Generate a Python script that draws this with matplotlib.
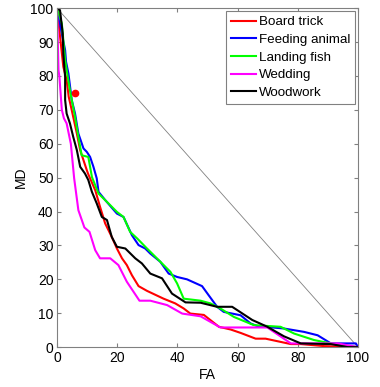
import numpy as np
import matplotlib.pyplot as plt

plt.rcParams['font.family'] = ['Liberation Sans', 'DejaVu Sans']

# curves: FA (x) vs MD (y)
board_x = [0, 2.1, 3.2, 3.9, 4.9, 6.6, 7.7, 9.9, 10.4, 12.7, 14.3, 16.0, 18.2, 19.9, 21.6, 23.2,
           24.9, 27.1, 29.9, 35.4, 39.3, 42.1, 44.3, 48.8, 53.8, 57.7, 61.0, 66.0, 69.3, 77.7, 81.0, 88.8, 100]
board_y = [100, 82.7, 78.8, 73.8, 69.9, 63.0, 58.1, 52.2, 51.0, 46.3, 41.4, 36.5, 32.5, 29.1, 26.2, 24.2,
           21.2, 18.0, 16.6, 14.3, 12.9, 11.4, 9.9, 9.5, 6.0, 5.2, 4.2, 2.5, 2.5, 0.9, 0.9, 0.3, 0]

feed_x = [0, 1.6, 2.7, 3.0, 3.8, 4.9, 6.0, 7.1, 8.8, 9.9, 11.0, 12.1, 13.2, 13.8, 16.0, 19.9, 22.1,
          24.9, 27.1, 29.3, 31.0, 34.3, 37.1, 39.9, 43.2, 48.2, 50.4, 53.2, 55.4, 61.0, 64.3, 66.6,
          75.4, 82.1, 86.6, 91.0, 99.3, 100]
feed_y = [100, 92.5, 87.6, 84.2, 80.7, 72.9, 68.9, 63.0, 58.6, 57.6, 56.1, 53.2, 49.8, 45.8, 43.4, 39.4, 38.4,
          33.0, 30.1, 29.1, 27.6, 25.2, 21.7, 20.7, 20.0, 18.0, 15.3, 11.9, 10.4, 9.4, 7.0, 6.2,
          5.5, 4.5, 3.5, 1.1, 1.1, 0]

fish_x = [0, 1.6, 2.7, 3.4, 4.1, 4.9, 6.0, 7.1, 8.2, 10.4, 11.6, 13.8, 17.1, 19.9, 22.1, 24.3, 26.6,
          29.9, 33.2, 37.7, 39.9, 42.1, 47.7, 51.0, 54.3, 58.8, 65.4, 74.3, 78.8, 85.4, 91.0, 100]
fish_y = [100, 95.5, 84.7, 80.7, 76.8, 72.9, 67.9, 62.0, 56.6, 56.1, 50.2, 45.3, 42.4, 39.9, 38.4, 34.0, 32.1,
          29.1, 26.2, 22.2, 18.8, 14.3, 13.7, 12.9, 11.4, 8.9, 6.5, 6.0, 4.0, 2.1, 1.1, 0]

wed_x = [0, 0.5, 0.8, 1.6, 2.3, 3.2, 4.6, 5.7, 7.1, 9.1, 10.8, 12.7, 14.3, 17.7, 20.4, 23.2, 27.4,
         31.0, 36.6, 41.6, 47.7, 54.3, 69.9, 77.7, 93.2, 100]
wed_y = [100, 81.7, 79.7, 70.0, 67.5, 66.0, 60.0, 49.8, 40.4, 35.3, 34.0, 28.6, 26.2, 26.2, 24.2, 19.3, 13.7,
         13.7, 12.4, 9.9, 9.1, 5.8, 5.8, 1.1, 1.1, 0]

wood_x = [0, 1.0, 1.9, 2.1, 2.7, 2.7, 3.2, 4.3, 5.4, 6.6, 7.7, 9.3, 10.4, 11.6, 13.2, 14.9, 16.6, 18.2,
          19.9, 22.7, 26.0, 28.2, 31.0, 34.9, 38.2, 42.7, 47.7, 53.2, 58.2, 64.9, 69.9, 75.4, 81.0, 91.0,
          96.6, 100]
wood_y = [100, 99.4, 92.5, 86.6, 79.7, 72.9, 68.9, 66.0, 62.0, 58.1, 53.2, 51.2, 49.3, 45.8, 42.4, 38.4, 37.5, 32.5,
          29.6, 29.1, 26.2, 24.7, 21.7, 20.3, 15.8, 13.2, 13.1, 11.9, 11.9, 8.0, 6.0, 3.2, 1.1, 0.9,
          0, 0]

dot_x, dot_y = 6, 75

fig = plt.figure(figsize=(3.8, 3.87), dpi=100)
ax = fig.add_axes([0.15, 0.103, 0.792, 0.876])

ax.plot([0, 100], [100, 0], color='#808080', lw=0.6)
ax.plot(board_x, board_y, color='#ff0000', lw=1.5, label='Board trick')
ax.plot(feed_x, feed_y, color='#0000ff', lw=1.5, label='Feeding animal')
ax.plot(fish_x, fish_y, color='#00ff00', lw=1.5, label='Landing fish')
ax.plot(wed_x, wed_y, color='#ff00ff', lw=1.5, label='Wedding')
ax.plot(wood_x, wood_y, color='#000000', lw=1.5, label='Woodwork')
ax.plot(dot_x, dot_y, 'o', color='#ff0000', ms=4.5)

ax.set_xlim(0, 100)
ax.set_ylim(0, 100)
ax.set_xticks(range(0, 101, 20))
ax.set_yticks(range(0, 101, 10))
ax.tick_params(direction='in', top=True, right=True, labelsize=10, length=3, color='#808080')
ax.tick_params(axis='y', pad=2.5)
ax.tick_params(axis='x', pad=3)
for s in ax.spines.values():
    s.set_color('#808080')
ax.set_xlabel('FA', fontsize=10, labelpad=2)
ax.set_ylabel('MD', fontsize=10, labelpad=2)

leg = ax.legend(loc='upper right', fontsize=9.6, fancybox=False, framealpha=1,
                borderpad=0.35, labelspacing=0.4, handlelength=1.9, handletextpad=0.2,
                borderaxespad=0.25)
leg.get_frame().set_edgecolor('#808080')
leg.get_frame().set_linewidth(0.8)

fig.savefig('out.png', dpi=100)
